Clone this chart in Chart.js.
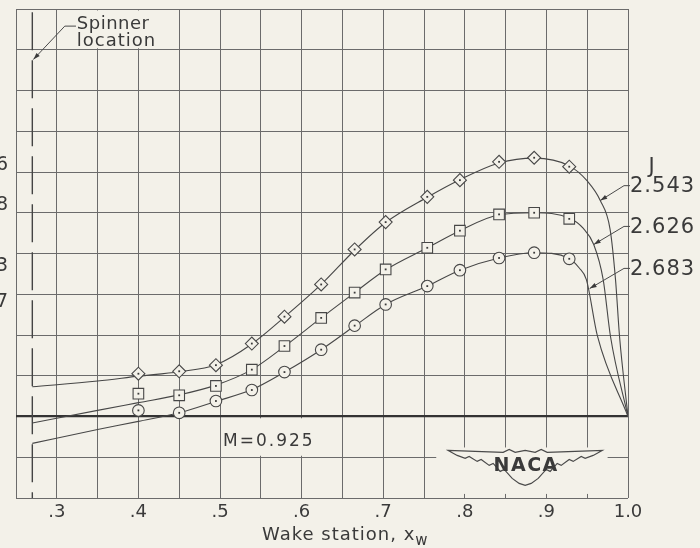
<!DOCTYPE html>
<html>
<head>
<meta charset="utf-8">
<script src="https://cdn.jsdelivr.net/npm/chart.js@4.4.1/dist/chart.umd.min.js"></script>
<style>
  html, body { margin: 0; padding: 0; background: #f3f1e9; }
  #wrap { width: 700px; height: 548px; }
</style>
</head>
<body>
<div id="wrap"><canvas id="wakeChart"></canvas></div>
<script>
// wake survey, M = 0.925 - three advance ratios J
const jValues = ['2.543', '2.626', '2.683'];

// measured stations (markers)
const stationX = [0.40, 0.45, 0.495, 0.539, 0.579, 0.624, 0.665, 0.703, 0.754, 0.794, 0.842, 0.885, 0.928];
const j2543Y = [1.05, 1.11, 1.26, 1.79, 2.45, 3.24, 4.10, 4.77, 5.39, 5.80, 6.25, 6.35, 6.13];
const j2626Y = [0.56, 0.52, 0.75, 1.15, 1.73, 2.42, 3.04, 3.61, 4.14, 4.56, 4.96, 5.00, 4.85];
const j2683Y = [0.15, 0.09, 0.38, 0.65, 1.09, 1.64, 2.23, 2.75, 3.20, 3.59, 3.89, 4.02, 3.87];

// faired curves, spinner (x=0.27) out to the tip (x=1.0)
const fair2543X = [0.27, 0.35, 0.40, 0.45, 0.495, 0.539, 0.579, 0.624, 0.665, 0.703, 0.754, 0.794, 0.842, 0.885, 0.928, 0.95, 0.966, 0.978, 0.9847, 0.9896, 1.0];
const fair2543Y = [0.73, 0.87, 0.99, 1.10, 1.27, 1.78, 2.44, 3.24, 4.08, 4.76, 5.38, 5.81, 6.22, 6.34, 6.15, 5.78, 5.30, 4.60, 3.36, 1.97, 0];
const fair2626X = [0.27, 0.35, 0.40, 0.45, 0.495, 0.539, 0.579, 0.624, 0.665, 0.703, 0.754, 0.794, 0.842, 0.885, 0.928, 0.945, 0.958, 0.9696, 0.9785, 1.0];
const fair2626Y = [-0.16, 0.15, 0.34, 0.53, 0.77, 1.15, 1.72, 2.42, 3.04, 3.60, 4.14, 4.56, 4.95, 5.00, 4.87, 4.62, 4.22, 3.36, 1.97, 0];
const fair2683X = [0.27, 0.35, 0.40, 0.45, 0.495, 0.539, 0.579, 0.624, 0.665, 0.703, 0.754, 0.794, 0.842, 0.885, 0.928, 0.94, 0.949, 0.9626, 1.0];
const fair2683Y = [-0.66, -0.32, -0.12, 0.09, 0.37, 0.66, 1.09, 1.64, 2.22, 2.75, 3.20, 3.59, 3.89, 4.02, 3.88, 3.65, 3.36, 1.97, 0];

const xTickValues = [0.3, 0.4, 0.5, 0.6, 0.7, 0.8, 0.9, 1.0];
const xTickLabels = ['.3', '.4', '.5', '.6', '.7', '.8', '.9', '1.0'];
const spinnerX = 0.27;
const machNumber = '0.925';

// cropped labels of another scale at the left edge
const leftCutLabels = ['6', '8', '3', '7'];

const paper = '#f3f1e9';
const ink = '#3a3a3a';
const gridInk = '#6b6b6b';
const fontFam = '"DejaVu Sans", Arial, sans-serif';

function pts(xs, ys) {
    return xs.map((x, i) => ({ x: x, y: ys[i] }));
}

function arrowTo(ctx, x1, y1, x2, y2) {
    ctx.beginPath();
    ctx.moveTo(x1, y1);
    ctx.lineTo(x2, y2);
    ctx.stroke();
    const a = Math.atan2(y2 - y1, x2 - x1);
    ctx.beginPath();
    ctx.moveTo(x2, y2);
    ctx.lineTo(x2 - 7 * Math.cos(a) + 2.2 * Math.sin(a), y2 - 7 * Math.sin(a) - 2.2 * Math.cos(a));
    ctx.lineTo(x2 - 7 * Math.cos(a) - 2.2 * Math.sin(a), y2 - 7 * Math.sin(a) + 2.2 * Math.cos(a));
    ctx.closePath();
    ctx.fill();
}

const wakeExtras = {
    id: 'wakeExtras',
    beforeDraw(chart) {
        const ctx = chart.ctx;
        ctx.save();
        ctx.fillStyle = paper;
        ctx.fillRect(0, 0, chart.width, chart.height);
        ctx.restore();
    },
    beforeDatasetsDraw(chart) {
        const ctx = chart.ctx;
        const xs = chart.scales.x, ys = chart.scales.y;
        const px = v => xs.getPixelForValue(v);
        const py = v => ys.getPixelForValue(v);
        ctx.save();
        // grid cells left open for the lettering and the logo
        ctx.fillStyle = paper;
        ctx.fillRect(px(0.30) + 1.5, py(10) + 1.5, px(0.45) - px(0.30) - 3, py(9) - py(10) - 3);
        ctx.fillRect(px(0.50) + 1.5, py(0) + 1.8, px(0.65) - px(0.50) - 3, py(-1) - py(0) - 3.3);
        ctx.fillRect(px(0.765), py(-0.76), px(0.975) - px(0.765), py(-1.9) - py(-0.76));

        // spinner location
        ctx.strokeStyle = '#444';
        ctx.lineWidth = 1.4;
        ctx.setLineDash([38, 10]);
        ctx.beginPath();
        ctx.moveTo(px(spinnerX), py(9.92));
        ctx.lineTo(px(spinnerX), py(-2));
        ctx.stroke();
        ctx.restore();
    },
    afterDatasetsDraw(chart) {
        const ctx = chart.ctx;
        ctx.save();
        ctx.fillStyle = ink;
        [0, 1, 2].forEach(i => {
            chart.getDatasetMeta(i).data.forEach(p => {
                ctx.fillRect(p.x - 0.9, p.y - 0.9, 1.8, 1.8);
            });
        });
        ctx.restore();
    },
    afterDraw(chart) {
        const ctx = chart.ctx;
        const area = chart.chartArea;
        const xs = chart.scales.x, ys = chart.scales.y;
        const px = v => xs.getPixelForValue(v);
        const py = v => ys.getPixelForValue(v);
        ctx.save();
        ctx.fillStyle = ink;
        ctx.strokeStyle = '#4a4a4a';
        ctx.lineWidth = 1;

        // Spinner location note
        ctx.font = '18px ' + fontFam;
        ctx.textAlign = 'left';
        ctx.textBaseline = 'alphabetic';
        ctx.letterSpacing = '0.5px';
        ctx.fillText('Spinner', px(0.3245), py(9.52));
        ctx.letterSpacing = '1px';
        ctx.fillText('location', px(0.3245), py(9.09));
        ctx.beginPath();
        ctx.moveTo(px(0.3235), py(9.58));
        ctx.lineTo(px(0.3098), py(9.58));
        ctx.stroke();
        arrowTo(ctx, px(0.3098), py(9.58), px(spinnerX) + 1, py(8.76));

        // Mach number
        ctx.font = '17px ' + fontFam;
        ctx.letterSpacing = '2px';
        ctx.textBaseline = 'middle';
        ctx.fillText('M=' + machNumber, px(0.5037), py(-0.61));

        // J legend with leaders
        const labelY = [5.64, 4.64, 3.61];
        const tips = [[0.966, 5.3], [0.958, 4.22], [0.953, 3.14]];
        ctx.font = '21px ' + fontFam;
        ctx.letterSpacing = '1px';
        ctx.textAlign = 'center';
        ctx.fillText('J', area.right + 24, py(6.11));
        ctx.textAlign = 'left';
        jValues.forEach((j, i) => {
            const yl = py(labelY[i]);
            ctx.fillText(j, area.right + 2, yl);
            ctx.beginPath();
            ctx.moveTo(area.right + 2, yl - 1);
            ctx.lineTo(area.right - 4, yl - 1);
            ctx.stroke();
            arrowTo(ctx, area.right - 4, yl - 1, px(tips[i][0]), py(tips[i][1]));
        });

        // cropped labels at the left edge
        ctx.font = '19px ' + fontFam;
        ctx.letterSpacing = '0px';
        ctx.textAlign = 'right';
        const cutY = [6.18, 5.2, 3.68, 2.82];
        leftCutLabels.forEach((t, i) => ctx.fillText(t, area.left - 8, py(cutY[i])));

        // NACA wings: top edge tip to tip, then feathered lower edge back
        const cx = px(0.874), cy = py(-1.2);
        const top = [[-77, -15], [-50, -14], [-22, -13], [-16, -16], [-10, -13], [0, -15]];
        const bottom = [[-77, -15], [-68, -10], [-60, -7], [-56, -9], [-48, -4], [-44, -6], [-36, 0], [-32, -2], [-25, 6], [-21, 4], [-13, 13], [-6, 18], [0, 20]];
        ctx.beginPath();
        top.forEach((p, i) => i ? ctx.lineTo(cx + p[0], cy + p[1]) : ctx.moveTo(cx + p[0], cy + p[1]));
        top.slice().reverse().forEach(p => ctx.lineTo(cx - p[0], cy + p[1]));
        bottom.forEach(p => ctx.lineTo(cx - p[0], cy + p[1]));
        bottom.slice().reverse().forEach(p => ctx.lineTo(cx + p[0], cy + p[1]));
        ctx.closePath();
        ctx.lineWidth = 1.2;
        ctx.stroke();
        ctx.font = 'bold 19px ' + fontFam;
        ctx.letterSpacing = '1.5px';
        ctx.textAlign = 'center';
        ctx.fillText('NACA', cx + 1, cy + 1);

        // axis title with subscript
        ctx.font = '18px ' + fontFam;
        ctx.letterSpacing = '1px';
        ctx.textAlign = 'left';
        ctx.textBaseline = 'alphabetic';
        const title = 'Wake station, x';
        const tx = 262;
        ctx.fillText(title, tx, area.bottom + 42);
        const tw = ctx.measureText(title).width;
        ctx.font = '15px ' + fontFam;
        ctx.fillText('w', tx + tw, area.bottom + 47);
        ctx.restore();
    }
};

const ctx = document.getElementById('wakeChart');

new Chart(ctx, {
    type: 'scatter',
    data: {
        datasets: [
            { label: 'J = ' + jValues[0], data: pts(stationX, j2543Y), pointStyle: 'rectRot', pointRadius: 6.5, order: 0 },
            { label: 'J = ' + jValues[1], data: pts(stationX, j2626Y), pointStyle: 'rect', pointRadius: 7.5, order: 0 },
            { label: 'J = ' + jValues[2], data: pts(stationX, j2683Y), pointStyle: 'circle', pointRadius: 5.8, order: 0 },
            { data: pts(fair2543X, fair2543Y), showLine: true, pointRadius: 0, order: 1 },
            { data: pts(fair2626X, fair2626Y), showLine: true, pointRadius: 0, order: 1 },
            { data: pts(fair2683X, fair2683Y), showLine: true, pointRadius: 0, order: 1 }
        ].map(ds => Object.assign({
            borderColor: '#474747',
            backgroundColor: paper,
            borderWidth: 1.1,
            pointBorderWidth: 1.1,
            pointBorderColor: '#474747',
            pointBackgroundColor: paper,
            cubicInterpolationMode: 'monotone'
        }, ds))
    },
    options: {
        responsive: true,
        maintainAspectRatio: false,
        animation: false,
        events: [],
        layout: { padding: { left: 16, right: 72, top: 9, bottom: 0 } },
        plugins: {
            legend: { display: false },
            tooltip: { enabled: false }
        },
        scales: {
            x: {
                type: 'linear',
                min: 0.25,
                max: 1.0,
                border: { display: false },
                grid: { color: gridInk, lineWidth: 1, drawTicks: false },
                ticks: {
                    stepSize: 0.05,
                    maxTicksLimit: 20,
                    autoSkip: false,
                    maxRotation: 0,
                    padding: 4,
                    color: ink,
                    font: { family: fontFam, size: 18 },
                    callback: function(value) {
                        const i = xTickValues.findIndex(v => Math.abs(v - value) < 1e-6);
                        return i >= 0 ? xTickLabels[i] : '';
                    }
                },
                afterFit: function(scale) { scale.height = 50; }
            },
            y: {
                min: -2,
                max: 10,
                border: { display: false },
                grid: {
                    drawTicks: false,
                    color: function(c) { return c.tick && c.tick.value === 0 ? '#333' : gridInk; },
                    lineWidth: function(c) { return c.tick && c.tick.value === 0 ? 2.2 : 1; }
                },
                ticks: { stepSize: 1, display: false },
                afterFit: function(scale) { scale.width = 0; }
            }
        }
    },
    plugins: [wakeExtras]
});
</script>
</body>
</html>
